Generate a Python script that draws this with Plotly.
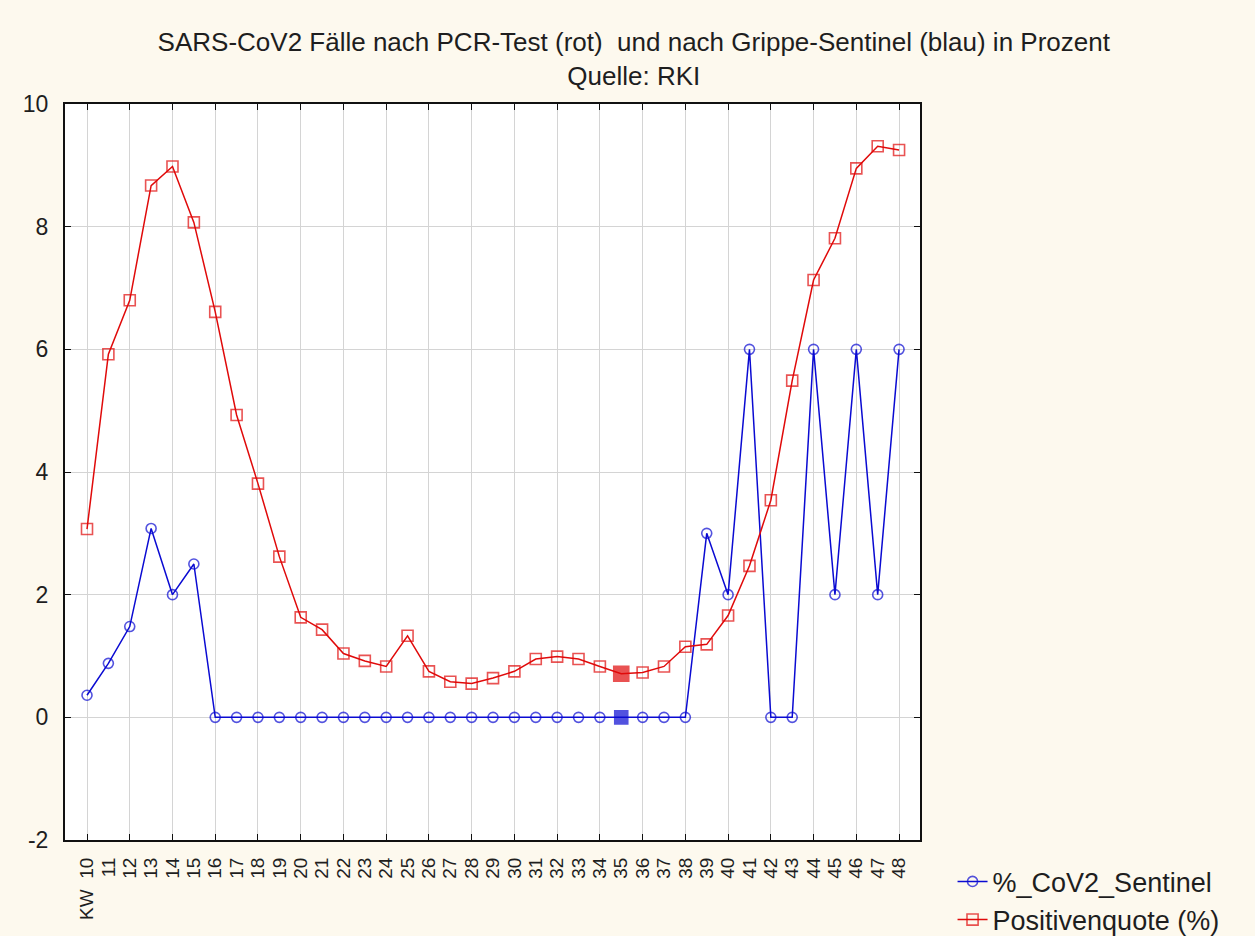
import plotly.graph_objects as go

weeks = ["KW\u00a0\u00a010"] + [str(k) for k in range(11, 49)]

sentinel = [0.36, 0.88, 1.48, 3.08, 2.0, 2.5,
            0, 0, 0, 0, 0, 0, 0, 0, 0, 0, 0, 0, 0, 0, 0, 0, 0, 0, 0, 0, 0, 0, 0,
            3.0, 2.0, 6.0, 0, 0, 6.0, 2.0, 6.0, 2.0, 6.0]

positiv = [3.07, 5.92, 6.80, 8.67, 8.98, 8.07, 6.61, 4.93, 3.81, 2.62,
           1.63, 1.43, 1.04, 0.92, 0.83, 1.33, 0.75, 0.58, 0.55, 0.64,
           0.75, 0.95, 0.99, 0.95, 0.83, 0.71, 0.73, 0.83, 1.15, 1.19,
           1.66, 2.47, 3.54, 5.49, 7.13, 7.81, 8.95, 9.31, 9.25]

y_ticks = [-2, 0, 2, 4, 6, 8, 10]

highlight_week = "35"

xs = list(range(len(weeks)))
hi = weeks.index(highlight_week)

def marker_arrays(base_symbol, base_size, hi_size):
    symbols = [base_symbol] * len(weeks)
    sizes = [base_size] * len(weeks)
    symbols[hi] = "square"
    sizes[hi] = hi_size
    return symbols, sizes

b_sym, b_size = marker_arrays("circle-open", 10, 13)
r_sym, r_size = marker_arrays("square-open", 11, 15)

BLUE = "#0A0AD2"
RED = "#E00A0A"
BG = "#FDF9EE"
FONT = "Liberation Sans, Arial, sans-serif"
TXT = "#1E1E1E"

fig = go.Figure()
fig.add_trace(go.Scatter(
    x=xs, y=sentinel, mode="lines+markers", name="%_CoV2_Sentinel",
    line=dict(color=BLUE, width=1.5),
    marker=dict(symbol=b_sym, size=b_size, color=BLUE, line=dict(color=BLUE, width=1.6)),
    xaxis="x", yaxis="y",
))
fig.add_trace(go.Scatter(
    x=xs, y=positiv, mode="lines+markers", name="Positivenquote (%)",
    line=dict(color=RED, width=1.5),
    marker=dict(symbol=r_sym, size=r_size, color=RED, line=dict(color=RED, width=1.6)),
    xaxis="x2", yaxis="y",
))

xrange = [-1.03, 38.98]

fig.update_layout(
    width=1255, height=936,
    paper_bgcolor=BG,
    plot_bgcolor="white",
    margin=dict(l=65, r=335, t=104, b=96, autoexpand=False),
    font=dict(family=FONT, color=TXT),
    title=dict(
        text="SARS-CoV2 Fälle nach PCR-Test (rot)  und nach Grippe-Sentinel (blau) in Prozent<br>Quelle: RKI",
        x=0.505, xref="container", xanchor="center",
        y=0.945, yref="container", yanchor="top",
        font=dict(size=26, family=FONT, color=TXT),
    ),
    xaxis=dict(
        range=xrange, tickmode="array", tickvals=xs, ticktext=weeks,
        tickangle=-90, showgrid=False, zeroline=False, ticks="",
        ticklabelstandoff=8,
        showline=True, linecolor="#111111", linewidth=2, mirror=True,
        tickfont=dict(size=19, family=FONT, color=TXT), automargin=False,
    ),
    xaxis2=dict(
        range=xrange, overlaying="x", anchor="y", side="bottom",
        tickmode="array", tickvals=xs[::2], showticklabels=False,
        showgrid=True, gridcolor="#D4D4D4", gridwidth=1, zeroline=False,
        ticks="inside", ticklen=6, tickcolor="#111111", mirror="ticks",
        showline=True, linecolor="#111111", linewidth=2, automargin=False,
    ),
    yaxis=dict(
        range=[-2, 10], tickmode="array", tickvals=y_ticks,
        ticktext=[str(v) for v in y_ticks],
        showgrid=True, gridcolor="#D4D4D4", gridwidth=1, zeroline=False,
        ticks="inside", ticklen=6, tickcolor="#111111", ticklabelstandoff=10,
        showline=True, linecolor="#111111", linewidth=2, mirror="ticks",
        tickfont=dict(size=23, family=FONT, color=TXT), automargin=False,
    ),
    legend=dict(
        xref="container", yref="container",
        x=0.759, xanchor="left", y=0.084, yanchor="top",
        bgcolor="rgba(0,0,0,0)", font=dict(size=27, family=FONT, color=TXT),
        tracegroupgap=0,
    ),
    showlegend=True,
)

fig.write_html(
    "out.html",
    config={"displayModeBar": False},
    post_script=f"document.body.style.margin='0';document.body.style.background='{BG}';",
)
